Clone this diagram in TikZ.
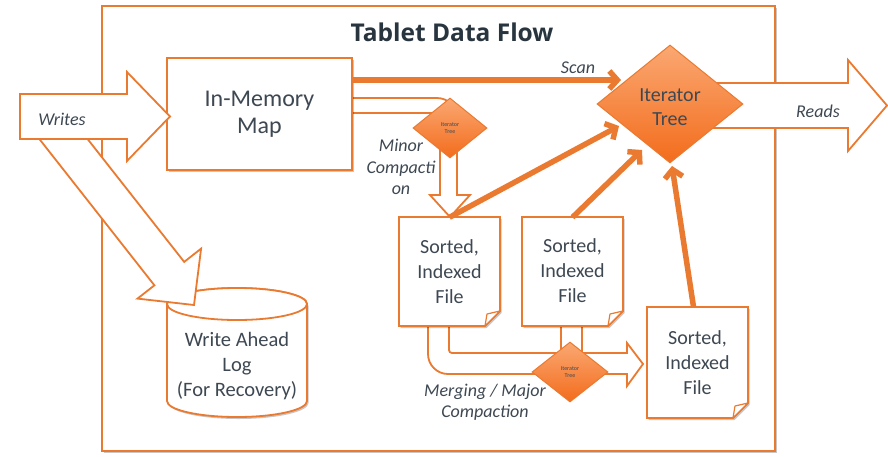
\documentclass[tikz,border=0pt]{standalone}
\usepackage{fontspec}
\setmainfont{Carlito}
\newfontfamily\headfont{Open Sans}
\usetikzlibrary{arrows.meta,shadows,shapes.geometric,calc}

\definecolor{acc}{RGB}{234,122,48}
\definecolor{ink}{RGB}{62,72,82}
\definecolor{headink}{RGB}{40,52,62}
\definecolor{dtop}{RGB}{250,168,114}
\definecolor{dbot}{RGB}{243,108,28}

% sheet of paper with a folded lower right corner: x0, y0, x1, y1
\newcommand\notesheet[4]{%
  \draw[orangeline, softshadow] (#1,#2) -- (#3,#2) -- (#3,#4-15) -- (#3-15,#4) -- (#1,#4) -- cycle;
  \draw[orangeline, line width=1.2pt, line join=round] (#3,#4-15) -- (#3-13,#4-12) -- (#3-15,#4) -- cycle;
}

\begin{document}
\begin{tikzpicture}[x=1pt,y=-1pt,
  orangeline/.style={draw=acc, line width=1.8pt, fill=white, line join=miter},
  softshadow/.style={drop shadow={shadow xshift=1.5pt, shadow yshift=-2pt, opacity=0.22, fill=black}},
  boxtext/.style={text=ink, font=\fontsize{20}{25}\selectfont, align=center, inner sep=0pt},
  flowlabel/.style={text=ink, font=\fontsize{18}{21.5}\selectfont\itshape, align=center, inner sep=0pt},
  filebox/.style={boxtext, minimum width=101pt, minimum height=109pt},
  decide/.style={diamond, draw=acc, line width=1pt, top color=dtop, bottom color=dbot,
                 inner sep=0pt, text=ink, align=center},
  flow/.style={draw=acc, line width=5.5pt, -{Straight Barb[length=8pt,width=18pt]}},
]
\useasboundingbox (0,0) rectangle (888,456);

% outer frame and heading
\node[orangeline, softshadow, minimum width=673pt, minimum height=445pt, inner sep=0pt] (frame) at (438.5,228.5) {};
\node[text=headink, font=\fontsize{24.5}{28}\selectfont\headfont\bfseries] (title) at (452,32) {Tablet Data Flow};

% wide arrows that run behind the boxes
\draw[orangeline] (700,83) -- (848,83) -- (848,60) -- (887,105.5) -- (848,151) -- (848,128) -- (700,128) -- cycle;
\draw[orangeline] (345,98) -- (437,98) .. controls (448,98) and (457,107) .. (457,118)
  -- (457,195) -- (470,195) -- (450,217) -- (430,195) -- (440,195) -- (440,118)
  .. controls (440,115.2) and (437.8,113) .. (435,113) -- (345,113) -- cycle;
\draw[orangeline] (428,318) -- (428,354) .. controls (428,365) and (437,374) .. (448,374)
  -- (627,374) -- (627,386) -- (643,364) -- (627,343) -- (627,353) -- (582,353) -- (582,318)
  -- (561,318) -- (561,353) -- (452,353) .. controls (450.3,353) and (449,351.7) .. (449,350)
  -- (449,318) -- cycle;

% write-ahead log drum
\draw[orangeline, softshadow] (167,304) -- (167,401) .. controls (167,409.8) and (198.3,417) .. (237,417)
  .. controls (275.7,417) and (307,409.8) .. (307,401) -- (307,304)
  .. controls (307,295.2) and (275.7,288) .. (237,288) .. controls (198.3,288) and (167,295.2) .. (167,304) -- cycle;
\draw[orangeline] (237,304) ellipse [x radius=70pt, y radius=16pt];
\node[boxtext, font=\fontsize{20.5}{25}\selectfont] (wal) at (237,366) {Write Ahead\\Log\\(For Recovery)};

% in-memory map
\node[orangeline, softshadow, boxtext, font=\fontsize{24}{27}\selectfont,
      minimum width=185pt, minimum height=112pt] (mem) at (259.5,114) {In-Memory\\Map};

% sorted files
\notesheet{399}{217}{500}{326}
\node[filebox] (f1) at (449.5,272) {Sorted,\\Indexed\\File};
\notesheet{522}{217}{623}{326}
\node[filebox] (f2) at (572.5,270.5) {Sorted,\\Indexed\\File};
\notesheet{647}{307}{748}{418}
\node[filebox, minimum height=111pt] (f3) at (697.5,362.5) {Sorted,\\Indexed\\File};

% incoming writes
\draw[orangeline] (60.6,104.7) -- (184.2,261.9) -- (201.1,248.6) -- (194,305) -- (137.5,298.6)
  -- (154.4,285.3) -- (30.8,128.1) -- cycle;
\draw[orangeline] (20,94) -- (127,94) -- (127,72) -- (170,116.5) -- (127,161) -- (127,139) -- (20,139) -- cycle;

% iterator trees
\node[decide, minimum width=146pt, minimum height=118pt, font=\fontsize{20}{24}\selectfont] (iter) at (670,104)
  {\raisebox{-5pt}[\height][\depth]{\begin{tabular}{@{}c@{}}Iterator\\Tree\end{tabular}}};
\node[decide, minimum width=74pt, minimum height=60pt, font=\fontsize{6}{7}\selectfont] (itminor) at (450,128) {Iterator\\Tree};
\node[decide, minimum width=76pt, minimum height=60pt, font=\fontsize{6}{7}\selectfont] (itmajor) at (570,372) {Iterator\\Tree};

% reads feeding the iterator tree
\coordinate (inscan) at (621,80);
\coordinate (in1) at (619,126);
\coordinate (in2) at (642,150);
\coordinate (in3) at (672,166);
\draw[flow] ([yshift=34pt]mem.east) -- (inscan);
\draw[flow] (f1.north) -- (in1);
\draw[flow] ([yshift=-1.5pt]f2.north) -- (in2);
\draw[flow] ([xshift=-4pt]f3.north) -- (in3);

% captions
\node[flowlabel] (scanlbl) at (578,68) {Scan};
\node[flowlabel] (readslbl) at (818,111) {Reads};
\node[flowlabel] (writeslbl) at (62,119) {Writes};
\node[flowlabel] (minorlbl) at (401,167) {Minor\\Compacti\\on};
\node[flowlabel] (majorlbl) at (485,402) {Merging / Major\\Compaction};
\end{tikzpicture}
\end{document}
